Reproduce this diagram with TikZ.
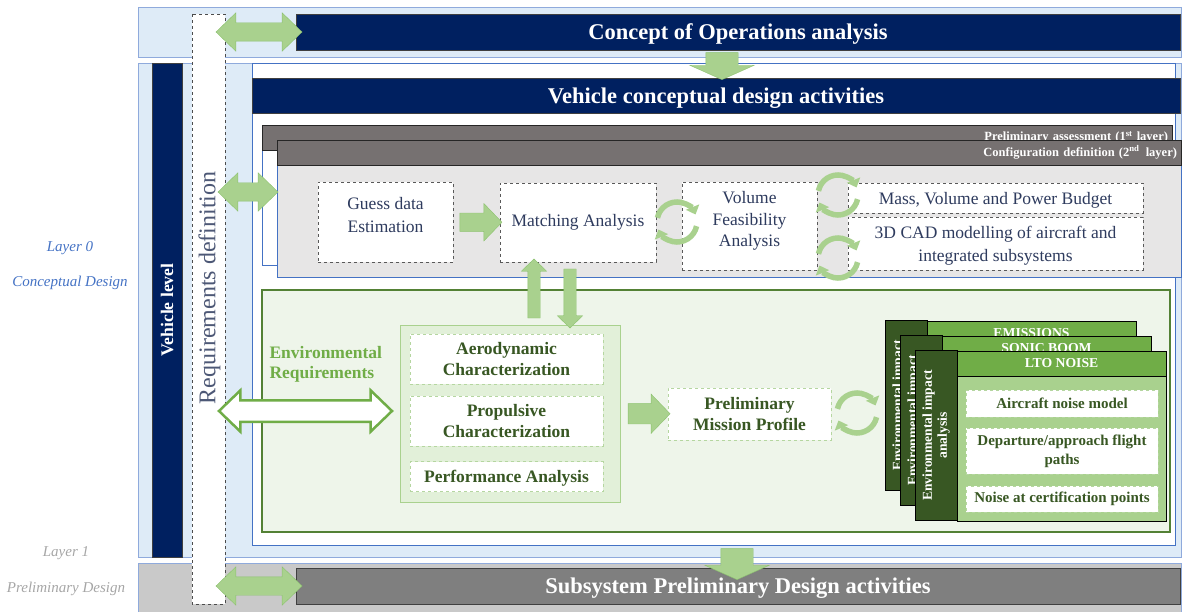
\documentclass[tikz,border=0pt]{standalone}
\usepackage{fontspec}
\setmainfont{Liberation Serif}
\usetikzlibrary{shapes.arrows,arrows.meta,calc,positioning}
\definecolor{navy}{HTML}{002060}
\definecolor{bandfill}{HTML}{DEEBF7}
\definecolor{bandline}{HTML}{8FAADC}
\definecolor{frameblue}{HTML}{4472C4}
\definecolor{layergray}{HTML}{767171}
\definecolor{layerbody}{HTML}{E7E6E6}
\definecolor{boxtext}{HTML}{2E3B5E}
\definecolor{arrowfill}{HTML}{A9D18E}
\definecolor{arrowline}{HTML}{8CC26E}
\definecolor{envgreen}{HTML}{70AD47}
\definecolor{envdark}{HTML}{385723}
\definecolor{envframe}{HTML}{538135}
\definecolor{envfill}{HTML}{EEF5EA}
\definecolor{groupfill}{HTML}{E2F0D9}
\definecolor{dashgreen}{HTML}{B5D6A0}
\definecolor{prelfill}{HTML}{C9C9C9}
\definecolor{prelbanner}{HTML}{7F7F7F}
\definecolor{layerone}{HTML}{A6A6A6}

\begin{document}
\begin{tikzpicture}[x=1pt,y=-1pt,
  area/.style={draw=bandline,line width=0.8pt,inner sep=0pt},
  banner/.style={draw=black!75,fill=navy,text=white,inner sep=0pt,text depth=0pt,font=\fontsize{22.5}{26}\selectfont\bfseries},
  layerhead/.style={draw=black!85,fill=layergray,text=white,inner xsep=4pt,inner ysep=0pt,align=right,font=\fontsize{12.5}{14}\selectfont\bfseries},
  dbox/.style={draw=black!65,dashed,fill=white,text=boxtext,align=center,inner sep=0pt,font=\fontsize{17.5}{23}\selectfont},
  gbox/.style={draw=dashgreen,dashed,fill=white,text=envdark,align=center,inner sep=0pt,font=\fontsize{17.5}{21}\selectfont\bfseries},
  cbox/.style={gbox,font=\fontsize{15}{19}\selectfont\bfseries},
  side/.style={draw=black,fill=envdark,text=white,rotate=90,align=center,inner sep=0pt,font=\fontsize{13.6}{15}\selectfont\bfseries},
  cardhead/.style={draw=black,fill=envgreen,text=white,inner sep=0pt,font=\fontsize{13.7}{15}\selectfont\bfseries},
  cardbody/.style={draw=black,fill=arrowfill,inner sep=0pt},
  garrow/.style={single arrow,draw=arrowline,fill=arrowfill,inner xsep=0pt,inner ysep=9pt,single arrow head extend=9.5pt,single arrow tip angle=92},
  bigdown/.style={garrow,rotate=-90,inner ysep=16pt,single arrow head extend=16pt,single arrow tip angle=132},
  thin/.style={garrow,inner ysep=6pt,single arrow head extend=6.5pt},
  darrow/.style={double arrow,draw=arrowline,fill=arrowfill,inner xsep=0pt,inner ysep=9pt,double arrow head extend=10pt,double arrow tip angle=88},
  cyc/.style={draw=arrowfill,line width=5.5pt,-{Triangle[width=14pt,length=8pt]}},
  layerlbl/.style={font=\fontsize{15}{18}\selectfont\itshape}
]
\useasboundingbox (0,0) rectangle (1183,612);

% bands
\node[area,fill=bandfill,minimum width=1043,minimum height=50] (conopsband) at (659.5,32) {};
\node[area,fill=bandfill,minimum width=1043,minimum height=494] (vehband) at (659.5,310) {};
\node[area,fill=prelfill,minimum width=1043,minimum height=49] (prelband) at (659.5,588) {};
\node[banner,minimum width=884,minimum height=36] (conops) at (738,32) {Concept of Operations analysis};
\node[banner,fill=prelbanner,minimum width=884,minimum height=36] (subsys) at (738,586) {Subsystem Preliminary Design activities};
\node[banner,rotate=90,minimum width=494,minimum height=30,font=\fontsize{17.7}{20}\selectfont\bfseries] (vehlevel) at (167,310) {Vehicle level};

\node[draw=frameblue,fill=white,line width=0.6pt,minimum width=923,minimum height=482] (vehbox) at (713.5,304) {};
\node[banner,minimum width=928,minimum height=35] (vehicle) at (716,95.5) {Vehicle conceptual design activities};

% layers
\node[draw=frameblue,fill=white,line width=0.6pt,minimum width=910,minimum height=140] (layer1) at (717,195) {};
\node[layerhead,minimum width=910,minimum height=25,text width=902] (l1head) at (717,137.5) {Preliminary assessment (1\textsuperscript{st} layer)};
\node[draw=frameblue,fill=layerbody,line width=0.6pt,minimum width=904,minimum height=137] (layer2) at (729,208.5) {};
\node[layerhead,minimum width=904,minimum height=25,text width=896] (l2head) at (729,152.5) {Configuration definition (2\textsuperscript{nd}\, layer)};

\node[dbox,minimum width=135,minimum height=80,text depth=14pt] (guess) at (385.5,222) {Guess data\\Estimation};
\node[dbox,minimum width=156,minimum height=79] (match) at (578,222.5) {Matching Analysis};
\node[dbox,minimum width=135,minimum height=88,text depth=14pt,font=\fontsize{17.5}{21.5}\selectfont] (volume) at (749.5,226) {Volume\\Feasibility\\Analysis};
\node[dbox,minimum width=295,minimum height=30,text depth=0pt] (budget) at (995.5,198) {Mass, Volume and Power Budget};
\node[dbox,minimum width=295,minimum height=53,text depth=0pt] (cad) at (995.5,243.5) {3D CAD modelling of aircraft and\\integrated subsystems};

% environmental block
\node[draw=envframe,fill=envfill,line width=2pt,minimum width=908,minimum height=242] (envbox) at (716,411) {};
\node[anchor=west,text=envgreen,align=left,font=\fontsize{17.5}{20}\selectfont\bfseries] (envreq) at (266,364) {Environmental\\Requirements};
\node[draw=arrowfill,fill=groupfill,line width=1pt,minimum width=220,minimum height=177] (group) at (510,413.5) {};
\node[gbox,minimum width=193,minimum height=50] (aero) at (506.5,359) {Aerodynamic\\Characterization};
\node[gbox,minimum width=193,minimum height=50] (prop) at (506.5,421) {Propulsive\\Characterization};
\node[gbox,minimum width=193,minimum height=30,text depth=0pt] (perf) at (506.5,476.5) {Performance Analysis};
\node[gbox,minimum width=163,minimum height=52] (mission) at (749.5,414) {Preliminary\\Mission Profile};

\foreach \i/\lbl in {0/EMISSIONS,1/SONIC BOOM,2/LTO NOISE}{
  \node[side,minimum width=170,minimum height=42] (side\i) at (906+15*\i,405.5+15*\i) {Environmental impact\\analysis};
  \node[cardbody,minimum width=209,minimum height=146] (body\i) at (1031.5+15*\i,418+15*\i) {};
  \node[cardhead,minimum width=209,minimum height=25] (head\i) at (1031.5+15*\i,333.5+15*\i) {\lbl};
}
\node[cbox,minimum width=192,minimum height=27] (acmodel) at (1062,403.5) {Aircraft noise model};
\node[cbox,minimum width=192,minimum height=46] (paths) at (1062,451) {Departure/approach flight\\paths};
\node[cbox,minimum width=192,minimum height=26] (certpts) at (1062,499) {Noise at certification points};

% requirements column
\node[draw=black!70,dashed,fill=white,rotate=90,minimum width=590,minimum height=33] (reqdef) at (208.5,309) {};
\node[rotate=90,text=boxtext!85,font=\fontsize{24}{28}\selectfont] (reqtext) at (209.5,288) {Requirements definition};

% layer labels
\node[layerlbl,text=frameblue] (lay0) at (70,248) {Layer 0};
\node[layerlbl,text=frameblue] (concept) at (70,283) {Conceptual Design};
\node[layerlbl,text=layerone] (lay1) at (66,553) {Layer 1};
\node[layerlbl,text=layerone] (prelim) at (66,589) {Preliminary Design};

% block arrows
\node[darrow,minimum height=86] (req2conops) at (259,32) {};
\node[darrow,minimum height=60] (req2layer) at (248,192) {};
\node[darrow,minimum height=86] (req2subsys) at (259,586) {};
\node[darrow,draw=envgreen,fill=white,line width=2.5pt,inner ysep=9.5pt,minimum height=173] (envarrow) at (305.5,411) {};
\node[bigdown,minimum height=27] (down1) at (722,62.5) {};
\node[bigdown,minimum height=31] (down2) at (737,560.5) {};
\node[garrow,minimum height=42] (guess2match) at ($(guess.east)!.5!(match.west)$) {};
\node[garrow,inner ysep=10pt,minimum height=42] (group2mission) at ($(group.east)!.5!(mission.west)$) {};
\node[thin,rotate=90,minimum height=59] (upmatch) at (534,291.5) {};
\node[thin,rotate=-90,minimum height=59] (downgroup) at (570,295.5) {};

% iteration loops
\coordinate (cyc1) at (677,222);
\coordinate (cyc2) at (838,195);
\coordinate (cyc3) at (838,258);
\coordinate (cyc4) at (857,413);
\foreach \c in {cyc1,cyc2,cyc3,cyc4}{
  \draw[cyc] (\c) ++(168:20pt) arc[start angle=168,end angle=22,radius=20pt];
  \draw[cyc] (\c) ++(-12:20pt) arc[start angle=-12,end angle=-158,radius=20pt];
}
\end{tikzpicture}
\end{document}
